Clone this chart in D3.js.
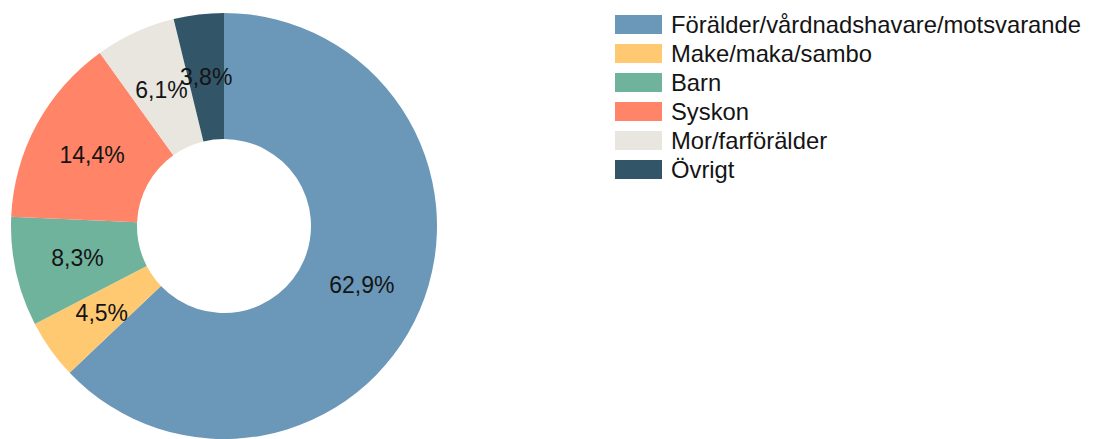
<!DOCTYPE html>
<html>
<head>
<meta charset="utf-8">
<script src="https://cdn.jsdelivr.net/npm/d3@7"></script>
<style>
  body { margin: 0; background: #fff; }
  svg { display: block; font-family: "Liberation Sans", Arial, sans-serif; }
</style>
</head>
<body>
<svg width="1093" height="439"></svg>
<script>
const categories = ["Förälder/vårdnadshavare/motsvarande", "Make/maka/sambo", "Barn", "Syskon", "Mor/farförälder", "Övrigt"];
const values = [62.9, 4.5, 8.3, 14.4, 6.1, 3.8];
const colors = ["#6b98b8", "#ffc972", "#70b39d", "#ff8468", "#e8e6df", "#325568"];

const data = categories.map((c, i) => ({ label: c, value: values[i] }));

let svg = d3.select("svg");

const attr_area = {
    cx: 224,
    cy: 226,
    outer: 213,
    inner: 87
};

const color = d3.scaleOrdinal().domain(categories).range(colors);

const pie = d3.pie().sort(null).value(d => d.value);
const arc = d3.arc().innerRadius(attr_area.inner).outerRadius(attr_area.outer);

const g = svg.append("g")
    .attr("transform", `translate(${attr_area.cx}, ${attr_area.cy})`);

const arcs = pie(data);

g.selectAll("path")
    .data(arcs)
    .enter()
    .append("path")
    .attr("d", arc)
    .style("fill", d => color(d.data.label));

const fmt = v => d3.format(".1f")(v).replace(".", ",") + "%";

g.selectAll(".lbl")
    .data(arcs)
    .enter()
    .append("text")
    .attr("class", "lbl")
    .attr("transform", d => `translate(${arc.centroid(d)})`)
    .attr("text-anchor", "middle")
    .attr("dy", "0.35em")
    .style("font-size", "23px")
    .style("fill", "#141414")
    .text(d => fmt(d.data.value));

// легенда
const legY = d3.scaleBand().domain(categories).range([15, 15 + 29 * categories.length]);

const leg = svg.append("g").attr("transform", "translate(615, 0)");

leg.selectAll("rect")
    .data(categories)
    .enter()
    .append("rect")
    .attr("x", 0)
    .attr("y", d => legY(d))
    .attr("width", 47)
    .attr("height", 19)
    .style("fill", d => color(d));

leg.selectAll("text")
    .data(categories)
    .enter()
    .append("text")
    .attr("x", 56)
    .attr("y", d => legY(d) + 9.5)
    .attr("dy", "0.35em")
    .style("font-size", "23.8px")
    .style("fill", "#141414")
    .text(d => d);
</script>
</body>
</html>
